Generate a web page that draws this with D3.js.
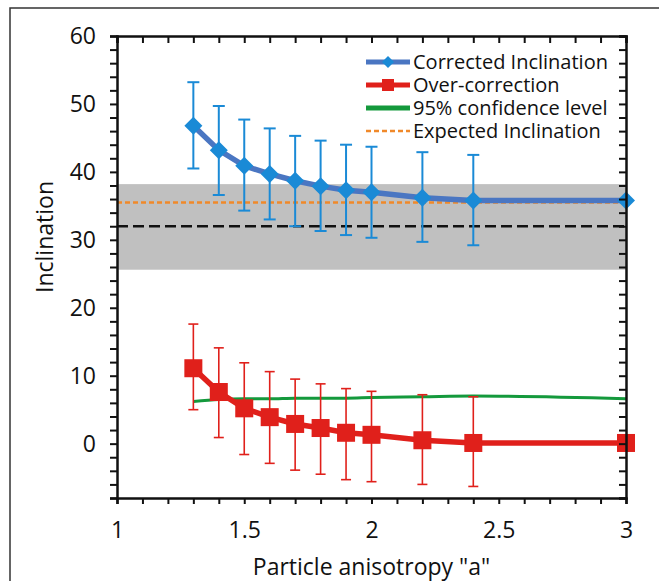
<!DOCTYPE html>
<html>
<head>
<meta charset="utf-8">
<script src="https://cdn.jsdelivr.net/npm/d3@7"></script>
<style>
  body { margin: 0; background: #fff; }
  svg { display: block; font-family: "Open Sans", sans-serif; }
</style>
</head>
<body>
<div id="chart"></div>
<script>
// Particle anisotropy values (x)
const anisotropy = [1.3, 1.4, 1.5, 1.6, 1.7, 1.8, 1.9, 2.0, 2.2, 2.4, 3.0];

// Corrected inclination with error bar ends (last point has no bar)
const corrected   = [46.8, 43.2, 40.9, 39.7, 38.7, 37.9, 37.3, 37.0, 36.2, 35.8, 35.8];
const correctedHi = [53.2, 49.7, 47.7, 46.4, 45.3, 44.6, 44.0, 43.7, 42.9, 42.5, null];
const correctedLo = [40.5, 36.6, 34.3, 33.0, 32.0, 31.3, 30.7, 30.3, 29.7, 29.2, null];

// Over-correction with error bar ends
const overCorr   = [11.1, 7.6, 5.2, 3.9, 2.9, 2.3, 1.6, 1.3, 0.5, 0.1, 0.1];
const overCorrHi = [17.6, 14.1, 11.9, 10.6, 9.5, 8.8, 8.1, 7.7, 7.2, 6.9, null];
const overCorrLo = [5.0, 0.9, -1.6, -2.9, -3.9, -4.5, -5.3, -5.6, -6.0, -6.3, null];

// 95% confidence level
const confidence95 = [6.2, 6.5, 6.6, 6.6, 6.7, 6.7, 6.7, 6.8, 6.9, 7.0, 6.6];

// Horizontal references
const expectedInclination = 35.5;
const referenceInclination = 32.0;
const bandRange = [25.6, 38.2];

const legendLabels = ["Corrected Inclination", "Over-correction", "95% confidence level", "Expected Inclination"];

const xTicks = d3.range(10, 31).map(d => d / 10);
const yTicks = d3.range(-8, 61, 2);

const colors = {
    blueLine: "#4a76c2",
    blueMark: "#1a8ad6",
    red: "#e0201b",
    green: "#14993c",
    orange: "#f0892a",
    band: "#c0c0c0"
};

const margin = { top: 36, left: 117 };
const width = 509;
const height = 462;

const svg = d3.select("#chart").append("svg")
    .attr("width", 659)
    .attr("height", 581);

// outer frame
svg.append("rect")
    .attr("x", 10).attr("y", 8)
    .attr("width", 700).attr("height", 700)
    .attr("fill", "none")
    .attr("stroke", "#333")
    .attr("stroke-width", 1.5);

const g = svg.append("g")
    .attr("transform", `translate(${margin.left},${margin.top})`);

const x = d3.scaleLinear().domain([1, 3]).range([0, width]);
const y = d3.scaleLinear().domain([-8, 60]).range([height, 0]);

// gray band
g.append("rect")
    .attr("x", 0)
    .attr("y", y(bandRange[1]))
    .attr("width", width)
    .attr("height", y(bandRange[0]) - y(bandRange[1]))
    .attr("fill", colors.band);

// black dashed reference
g.append("line")
    .attr("x1", 0).attr("x2", width)
    .attr("y1", y(referenceInclination)).attr("y2", y(referenceInclination))
    .attr("stroke", "#111")
    .attr("stroke-width", 2.5)
    .attr("stroke-dasharray", "11,5");

// orange dashed expected
g.append("line")
    .attr("x1", 0).attr("x2", width)
    .attr("y1", y(expectedInclination)).attr("y2", y(expectedInclination))
    .attr("stroke", colors.orange)
    .attr("stroke-width", 2.5)
    .attr("stroke-dasharray", "5,3");

// green confidence curve
const pts = (vals) => anisotropy.map((a, i) => ({ a: a, v: vals[i] }));

g.append("path")
    .datum(pts(confidence95))
    .attr("fill", "none")
    .attr("stroke", colors.green)
    .attr("stroke-width", 3)
    .attr("d", d3.line().x(d => x(d.a)).y(d => y(d.v)).curve(d3.curveMonotoneX));

function errorBars(hi, lo, color, sw, cap) {
    const data = anisotropy.map((a, i) => ({ a: a, hi: hi[i], lo: lo[i] })).filter(d => d.hi !== null);
    const eg = g.append("g").attr("stroke", color).attr("stroke-width", sw);
    eg.selectAll(".bar").data(data).enter().append("line")
        .attr("x1", d => x(d.a)).attr("x2", d => x(d.a))
        .attr("y1", d => y(d.hi)).attr("y2", d => y(d.lo));
    ["hi", "lo"].forEach(k => {
        eg.selectAll(".cap-" + k).data(data).enter().append("line")
            .attr("x1", d => x(d.a) - cap / 2).attr("x2", d => x(d.a) + cap / 2)
            .attr("y1", d => y(d[k])).attr("y2", d => y(d[k]));
    });
}

const straight = d3.line().x(d => x(d.a)).y(d => y(d.v));
const diamond = (r) => `M0,${-r}L${r},0L0,${r}L${-r},0Z`;

// corrected inclination
errorBars(correctedHi, correctedLo, colors.blueMark, 2, 12);
g.append("path")
    .datum(pts(corrected))
    .attr("fill", "none")
    .attr("stroke", colors.blueLine)
    .attr("stroke-width", 5.5)
    .attr("d", straight);
g.selectAll(".diamond").data(pts(corrected)).enter().append("path")
    .attr("transform", d => `translate(${x(d.a)},${y(d.v)})`)
    .attr("d", diamond(9))
    .attr("fill", colors.blueMark);

// over-correction
errorBars(overCorrHi, overCorrLo, colors.red, 1.6, 10);
g.append("path")
    .datum(pts(overCorr))
    .attr("fill", "none")
    .attr("stroke", colors.red)
    .attr("stroke-width", 5.5)
    .attr("d", straight);
g.selectAll(".square").data(pts(overCorr)).enter().append("rect")
    .attr("x", d => x(d.a) - 9).attr("y", d => y(d.v) - 9)
    .attr("width", 18).attr("height", 18)
    .attr("fill", colors.red);

// axes
const yLeft = g.append("g")
    .call(d3.axisLeft(y).tickValues(yTicks).tickSize(7).tickPadding(14)
        .tickFormat(d => d % 10 === 0 ? d : ""));
const yRight = g.append("g")
    .attr("transform", `translate(${width},0)`)
    .call(d3.axisLeft(y).tickValues(yTicks).tickSize(7).tickFormat(""));
const xTop = g.append("g")
    .call(d3.axisBottom(x).tickValues(xTicks).tickSize(7).tickFormat(""));
const xBottom = g.append("g")
    .attr("transform", `translate(0,${height})`)
    .call(d3.axisBottom(x).tickValues(xTicks).tickSize(6).tickPadding(18)
        .tickFormat(d => Math.round(d * 10) % 5 === 0 ? d3.format("~g")(d) : ""));

[yLeft, yRight, xTop, xBottom].forEach(ax => {
    ax.select(".domain").attr("stroke", "#111").attr("stroke-width", 2.5);
    ax.selectAll(".tick line").attr("stroke", "#111").attr("stroke-width", 2);
    ax.selectAll("text").attr("fill", "#111").style("font-size", "23px")
        .style("font-family", "'Open Sans', sans-serif");
});

// axis titles
svg.append("text")
    .attr("x", margin.left + width / 2)
    .attr("y", 575)
    .attr("text-anchor", "middle")
    .style("font-size", "23px")
    .attr("fill", "#111")
    .text('Particle anisotropy "a"');

svg.append("text")
    .attr("transform", "translate(53,237) rotate(-90)")
    .attr("text-anchor", "middle")
    .style("font-size", "23px")
    .attr("fill", "#111")
    .text("Inclination");

// legend
const legend = svg.append("g").attr("transform", "translate(366,62)");
legendLabels.forEach((label, i) => {
    const row = legend.append("g").attr("transform", `translate(0,${i * 23})`);
    const stroke = [colors.blueLine, colors.red, colors.green, colors.orange][i];
    row.append("line")
        .attr("x1", 0).attr("x2", 44)
        .attr("stroke", stroke)
        .attr("stroke-width", i === 3 ? 2.5 : 5)
        .attr("stroke-dasharray", i === 3 ? "5,3" : null);
    if (i === 0) {
        row.append("path")
            .attr("transform", "translate(22,0)")
            .attr("d", diamond(6))
            .attr("fill", colors.blueMark);
    }
    if (i === 1) {
        row.append("rect")
            .attr("x", 16).attr("y", -6).attr("width", 12).attr("height", 12)
            .attr("fill", colors.red);
    }
    row.append("text")
        .attr("x", 47)
        .attr("y", 7)
        .style("font-size", "20px")
        .attr("fill", "#111")
        .text(label);
});
</script>
</body>
</html>
